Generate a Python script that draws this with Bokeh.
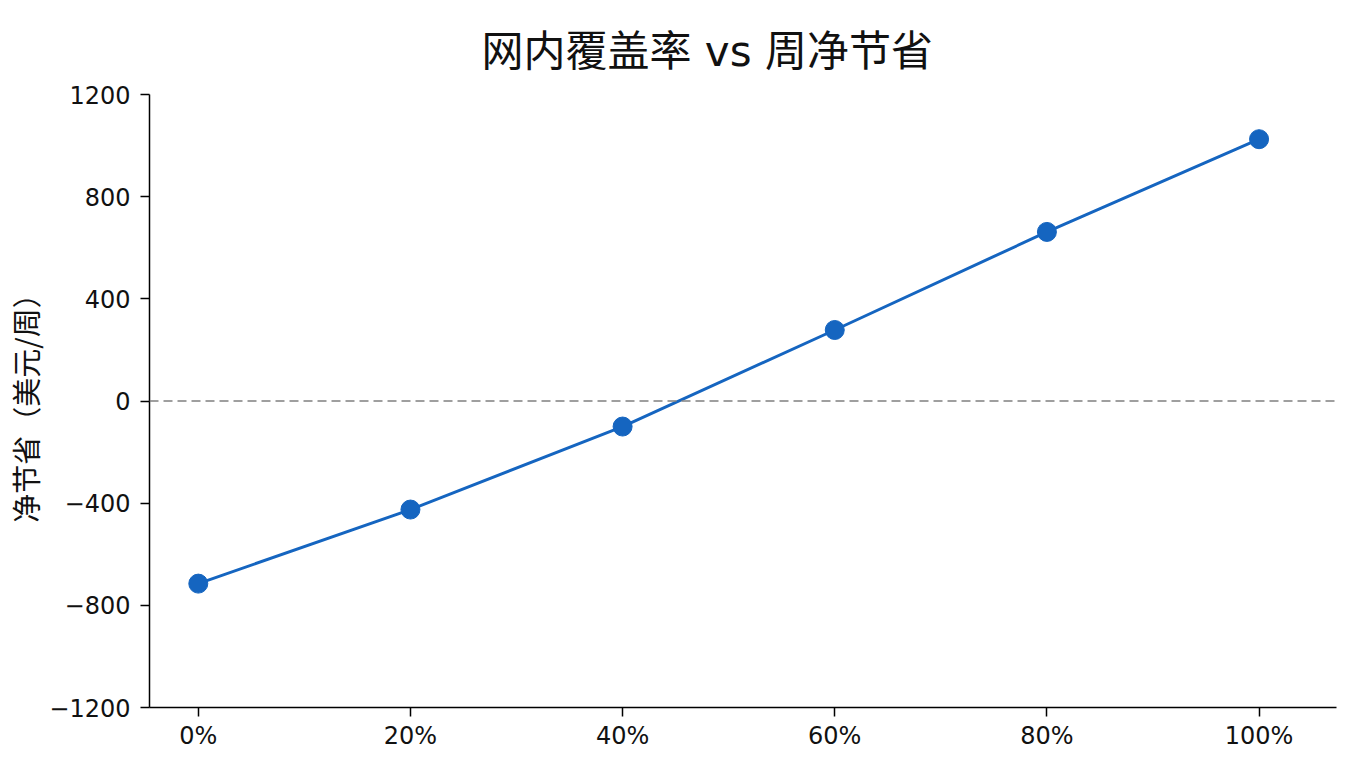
from bokeh.plotting import figure
from bokeh.models import Range1d, FixedTicker, Span, ColumnDataSource
from bokeh.embed import file_html
from bokeh.resources import INLINE

# data
coverage = [0, 20, 40, 60, 80, 100]
net_savings = [-715, -425, -100, 278, 662, 1025]
x_tick_values = [0, 20, 40, 60, 80, 100]
x_tick_labels = ["0%", "20%", "40%", "60%", "80%", "100%"]
y_tick_values = [-1200, -800, -400, 0, 400, 800, 1200]
y_tick_labels = ["\u22121200", "\u2212800", "\u2212400", "0", "400", "800", "1200"]

title_text = "网内覆盖率 vs 周净节省"
y_label = "净节省（美元/周）"

CJK = "Noto Sans CJK SC"
BLUE = "#1565C0"

p = figure(width=1344, height=752, output_backend="svg", toolbar_location=None,
           x_range=Range1d(-4.6, 107.3), y_range=Range1d(-1200, 1200),
           min_border_left=149, min_border_right=8, min_border_top=94, min_border_bottom=45)

p.title.text = title_text
p.title.text_font = "DejaVu Sans, Noto Sans CJK SC"
p.title.text_font_size = "42px"
p.title.text_font_style = "normal"
p.title.text_color = "#111111"
p.title.align = "left"
p.title.offset = 332
p.title.standoff = 38

p.outline_line_color = None
p.xgrid.grid_line_color = None
p.ygrid.grid_line_color = None
p.background_fill_color = "white"
p.border_fill_color = "white"

p.xaxis.ticker = FixedTicker(ticks=x_tick_values)
p.xaxis.major_label_overrides = dict(zip(x_tick_values, x_tick_labels))
p.yaxis.ticker = FixedTicker(ticks=y_tick_values)
p.yaxis.major_label_overrides = dict(zip(y_tick_values, y_tick_labels))

for ax in (p.xaxis, p.yaxis):
    ax.axis_line_width = 1.5
    ax.axis_line_color = "black"
    ax.major_tick_line_color = "black"
    ax.major_tick_line_width = 1.5
    ax.major_tick_out = 9
    ax.major_tick_in = 0
    ax.minor_tick_line_color = None
    ax.major_label_text_font = "DejaVu Sans"
    ax.major_label_text_font_size = "24px"
    ax.major_label_text_color = "#111111"

p.xaxis.major_label_standoff = 5
p.yaxis.major_label_standoff = 10

p.yaxis.axis_label = y_label
p.yaxis.axis_label_text_font = CJK
p.yaxis.axis_label_text_font_size = "29px"
p.yaxis.axis_label_text_font_style = "normal"
p.yaxis.axis_label_text_color = "#111111"
p.yaxis.axis_label_standoff = 0

zero = Span(location=0, dimension="width", line_color="#808080",
            line_width=1.6, line_dash="9 5")
p.add_layout(zero)

src = ColumnDataSource(data=dict(x=coverage, y=net_savings))
p.line("x", "y", source=src, line_color=BLUE, line_width=3)
p.scatter("x", "y", source=src, size=19, fill_color=BLUE, line_color=BLUE)

open("out.html", "w").write(file_html(p, INLINE))
